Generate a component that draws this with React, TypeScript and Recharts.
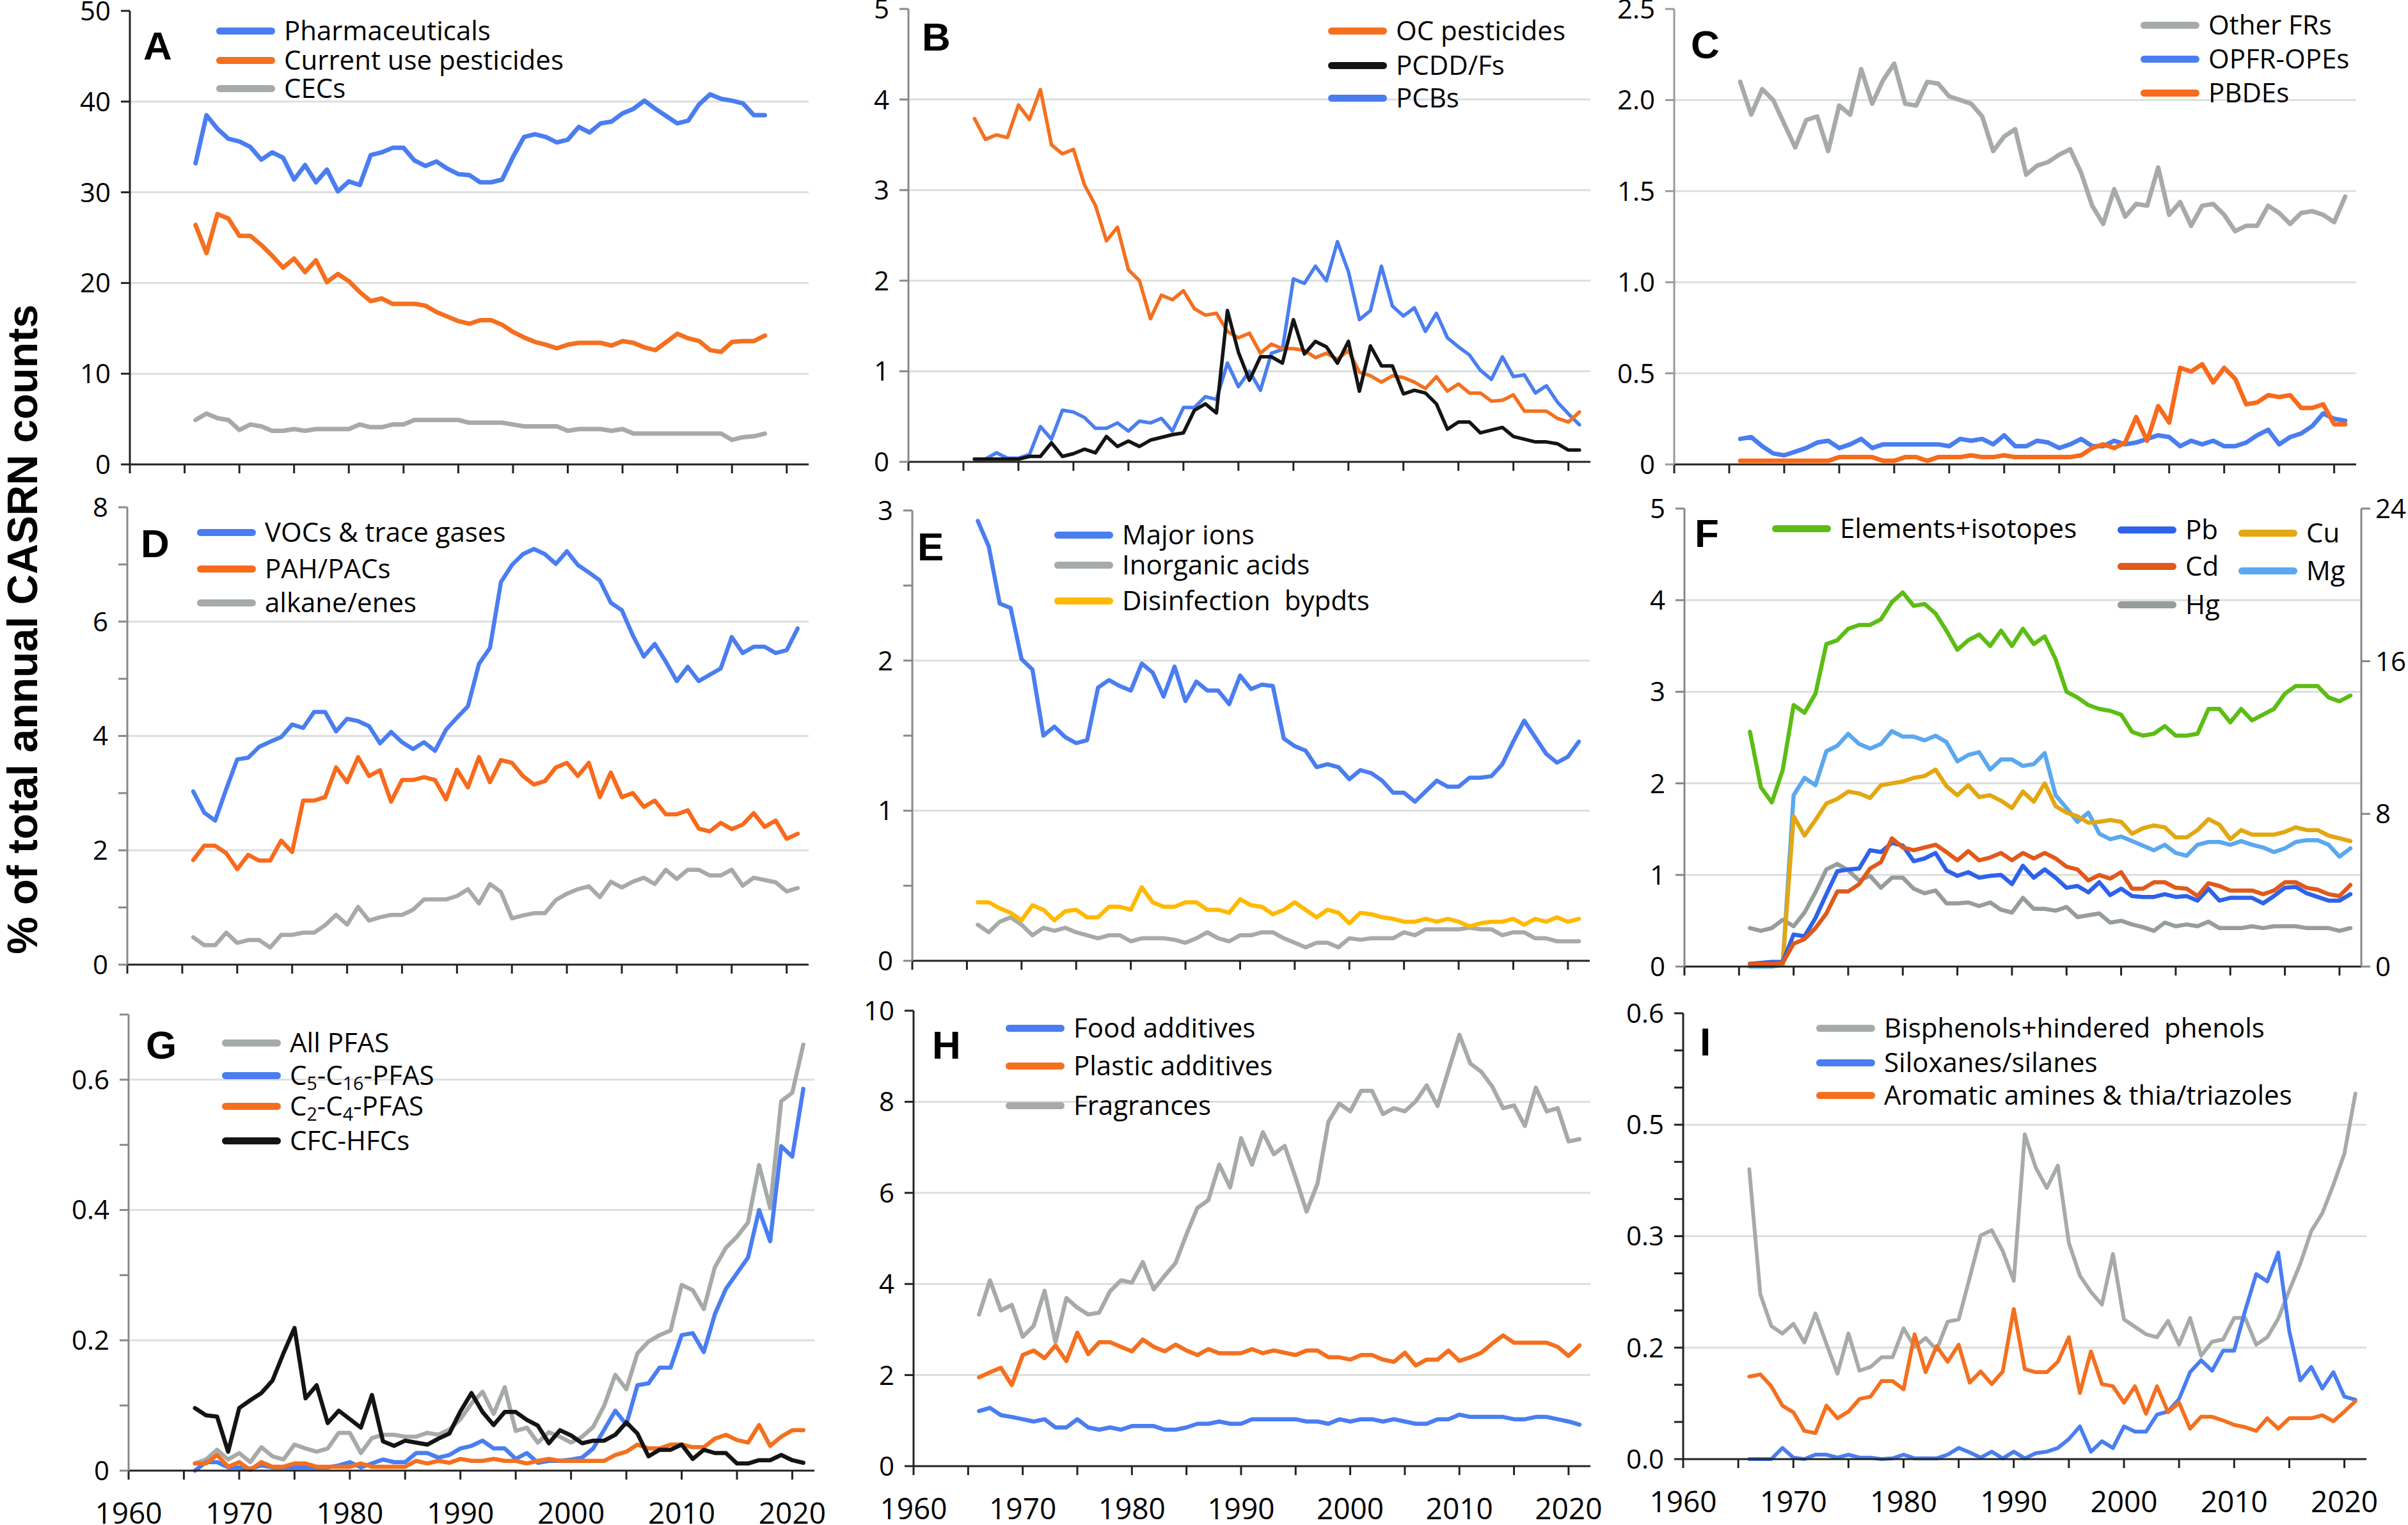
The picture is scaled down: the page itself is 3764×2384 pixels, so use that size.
import React from "react";
import { LineChart, Line, XAxis, YAxis, CartesianGrid, Legend } from "recharts";

const FONT = "'Open Sans', 'Noto Sans', sans-serif";
const BOLD_FONT = "'Liberation Sans', Arial, sans-serif";

const YEARS = [
  1966, 1967, 1968, 1969, 1970, 1971, 1972, 1973, 1974, 1975,
  1976, 1977, 1978, 1979, 1980, 1981, 1982, 1983, 1984, 1985,
  1986, 1987, 1988, 1989, 1990, 1991, 1992, 1993, 1994, 1995,
  1996, 1997, 1998, 1999, 2000, 2001, 2002, 2003, 2004, 2005,
  2006, 2007, 2008, 2009, 2010, 2011, 2012, 2013, 2014, 2015,
  2016, 2017, 2018, 2019, 2020, 2021,
];
const X_TICKS = [1960, 1965, 1970, 1975, 1980, 1985, 1990, 1995, 2000, 2005, 2010, 2015, 2020];
const X_DOMAIN: [number, number] = [1960, 2022];

// A (1966-2018)
const pharmaceuticals = [33.2, 38.5, 37.0, 35.9, 35.6, 35.0, 33.6, 34.4, 33.8, 31.4, 33.0, 31.1, 32.5, 30.1, 31.2, 30.8, 34.1, 34.4, 34.9, 34.9, 33.5, 32.9, 33.4, 32.6, 32.0, 31.9, 31.1, 31.1, 31.4, 33.9, 36.1, 36.4, 36.1, 35.5, 35.8, 37.2, 36.6, 37.6, 37.8, 38.7, 39.2, 40.1, 39.2, 38.4, 37.6, 37.9, 39.7, 40.8, 40.3, 40.1, 39.8, 38.5, 38.5];
const currentPesticides = [26.4, 23.3, 27.6, 27.1, 25.2, 25.2, 24.2, 23.0, 21.7, 22.7, 21.2, 22.5, 20.1, 21.0, 20.2, 19.0, 18.0, 18.3, 17.7, 17.7, 17.7, 17.5, 16.8, 16.3, 15.8, 15.5, 15.9, 15.9, 15.4, 14.6, 14.0, 13.5, 13.2, 12.8, 13.2, 13.4, 13.4, 13.4, 13.1, 13.6, 13.4, 12.9, 12.6, 13.5, 14.4, 13.9, 13.6, 12.6, 12.4, 13.5, 13.6, 13.6, 14.2];
const cecs = [4.9, 5.6, 5.1, 4.9, 3.8, 4.4, 4.2, 3.7, 3.7, 3.9, 3.7, 3.9, 3.9, 3.9, 3.9, 4.4, 4.1, 4.1, 4.4, 4.4, 4.9, 4.9, 4.9, 4.9, 4.9, 4.6, 4.6, 4.6, 4.6, 4.4, 4.2, 4.2, 4.2, 4.2, 3.7, 3.9, 3.9, 3.9, 3.7, 3.9, 3.4, 3.4, 3.4, 3.4, 3.4, 3.4, 3.4, 3.4, 3.4, 2.7, 3.0, 3.1, 3.4];

// B
const ocPesticides = [3.79, 3.56, 3.61, 3.58, 3.94, 3.78, 4.11, 3.50, 3.40, 3.45, 3.06, 2.83, 2.44, 2.59, 2.12, 2.00, 1.58, 1.84, 1.79, 1.89, 1.69, 1.62, 1.64, 1.44, 1.37, 1.42, 1.20, 1.30, 1.25, 1.25, 1.23, 1.15, 1.20, 1.13, 1.23, 0.99, 0.95, 0.88, 0.95, 0.93, 0.88, 0.81, 0.94, 0.78, 0.86, 0.76, 0.76, 0.67, 0.68, 0.74, 0.56, 0.56, 0.56, 0.48, 0.44, 0.55];
const pcddFs = [0.03, 0.03, 0.03, 0.03, 0.03, 0.06, 0.06, 0.21, 0.06, 0.09, 0.14, 0.10, 0.28, 0.17, 0.23, 0.17, 0.24, 0.27, 0.30, 0.32, 0.57, 0.64, 0.54, 1.67, 1.21, 0.90, 1.16, 1.16, 1.09, 1.57, 1.19, 1.33, 1.27, 1.09, 1.33, 0.78, 1.28, 1.06, 1.06, 0.75, 0.79, 0.76, 0.64, 0.36, 0.44, 0.44, 0.32, 0.35, 0.38, 0.28, 0.25, 0.22, 0.22, 0.20, 0.13, 0.13];
const pcbs = [0.03, 0.03, 0.10, 0.04, 0.04, 0.08, 0.39, 0.25, 0.57, 0.55, 0.49, 0.37, 0.37, 0.43, 0.34, 0.45, 0.43, 0.48, 0.34, 0.60, 0.60, 0.72, 0.69, 1.09, 0.83, 1.00, 0.79, 1.20, 1.24, 2.02, 1.97, 2.16, 2.00, 2.43, 2.10, 1.57, 1.67, 2.16, 1.72, 1.61, 1.70, 1.44, 1.64, 1.37, 1.27, 1.18, 1.01, 0.91, 1.16, 0.94, 0.96, 0.76, 0.84, 0.66, 0.53, 0.41];

// C
const otherFRs = [2.10, 1.92, 2.06, 2.00, 1.87, 1.74, 1.89, 1.91, 1.72, 1.97, 1.92, 2.17, 1.98, 2.11, 2.20, 1.98, 1.97, 2.10, 2.09, 2.02, 2.00, 1.98, 1.91, 1.72, 1.80, 1.84, 1.59, 1.64, 1.66, 1.70, 1.73, 1.60, 1.42, 1.32, 1.51, 1.36, 1.43, 1.42, 1.63, 1.37, 1.44, 1.31, 1.42, 1.43, 1.37, 1.28, 1.31, 1.31, 1.42, 1.38, 1.32, 1.38, 1.39, 1.37, 1.33, 1.47];
const opfrOpes = [0.14, 0.15, 0.10, 0.06, 0.05, 0.07, 0.09, 0.12, 0.13, 0.09, 0.11, 0.14, 0.09, 0.11, 0.11, 0.11, 0.11, 0.11, 0.11, 0.10, 0.14, 0.13, 0.14, 0.11, 0.16, 0.10, 0.10, 0.13, 0.12, 0.09, 0.11, 0.14, 0.10, 0.10, 0.13, 0.11, 0.12, 0.14, 0.16, 0.15, 0.10, 0.13, 0.11, 0.13, 0.10, 0.10, 0.12, 0.16, 0.19, 0.11, 0.15, 0.17, 0.21, 0.28, 0.25, 0.24];
const pbdes = [0.02, 0.02, 0.02, 0.02, 0.02, 0.02, 0.02, 0.02, 0.02, 0.04, 0.04, 0.04, 0.04, 0.02, 0.02, 0.04, 0.04, 0.02, 0.04, 0.04, 0.04, 0.05, 0.04, 0.04, 0.05, 0.04, 0.04, 0.04, 0.04, 0.04, 0.04, 0.05, 0.09, 0.11, 0.09, 0.12, 0.26, 0.13, 0.32, 0.23, 0.53, 0.51, 0.55, 0.45, 0.53, 0.47, 0.33, 0.34, 0.38, 0.37, 0.38, 0.31, 0.31, 0.33, 0.22, 0.22];

// D
const vocs = [3.03, 2.66, 2.52, 3.07, 3.59, 3.62, 3.81, 3.90, 3.98, 4.20, 4.14, 4.42, 4.42, 4.08, 4.30, 4.26, 4.17, 3.87, 4.07, 3.89, 3.77, 3.89, 3.74, 4.11, 4.32, 4.52, 5.26, 5.54, 6.69, 6.99, 7.18, 7.27, 7.18, 7.01, 7.23, 6.99, 6.86, 6.72, 6.33, 6.20, 5.76, 5.39, 5.61, 5.30, 4.96, 5.21, 4.96, 5.07, 5.18, 5.73, 5.45, 5.56, 5.56, 5.45, 5.50, 5.88];
const pahPacs = [1.83, 2.08, 2.08, 1.95, 1.67, 1.92, 1.82, 1.82, 2.17, 1.97, 2.87, 2.87, 2.93, 3.45, 3.19, 3.63, 3.30, 3.40, 2.85, 3.23, 3.23, 3.28, 3.23, 2.89, 3.41, 3.10, 3.63, 3.19, 3.58, 3.53, 3.30, 3.15, 3.21, 3.45, 3.53, 3.30, 3.53, 2.93, 3.36, 2.93, 3.00, 2.76, 2.87, 2.63, 2.63, 2.70, 2.38, 2.33, 2.48, 2.37, 2.45, 2.65, 2.41, 2.52, 2.20, 2.29];
const alkanes = [0.48, 0.34, 0.34, 0.56, 0.38, 0.43, 0.43, 0.30, 0.52, 0.52, 0.56, 0.56, 0.69, 0.87, 0.70, 1.01, 0.77, 0.83, 0.87, 0.87, 0.96, 1.14, 1.14, 1.14, 1.20, 1.32, 1.07, 1.41, 1.27, 0.81, 0.86, 0.90, 0.90, 1.13, 1.24, 1.32, 1.37, 1.18, 1.45, 1.35, 1.45, 1.52, 1.41, 1.66, 1.50, 1.66, 1.66, 1.56, 1.56, 1.66, 1.38, 1.52, 1.48, 1.44, 1.28, 1.34];

// E
const majorIons = [2.93, 2.76, 2.38, 2.35, 2.01, 1.94, 1.50, 1.56, 1.49, 1.45, 1.47, 1.82, 1.87, 1.83, 1.80, 1.98, 1.92, 1.76, 1.96, 1.73, 1.86, 1.80, 1.80, 1.71, 1.90, 1.81, 1.84, 1.83, 1.48, 1.43, 1.40, 1.29, 1.31, 1.29, 1.21, 1.27, 1.25, 1.20, 1.12, 1.12, 1.06, 1.13, 1.20, 1.16, 1.16, 1.22, 1.22, 1.23, 1.31, 1.46, 1.60, 1.49, 1.38, 1.32, 1.36, 1.46];
const inorganicAcids = [0.24, 0.19, 0.26, 0.29, 0.24, 0.17, 0.22, 0.20, 0.22, 0.19, 0.17, 0.15, 0.17, 0.17, 0.13, 0.15, 0.15, 0.15, 0.14, 0.12, 0.15, 0.19, 0.15, 0.13, 0.17, 0.17, 0.19, 0.19, 0.15, 0.12, 0.09, 0.12, 0.12, 0.09, 0.15, 0.14, 0.15, 0.15, 0.15, 0.19, 0.17, 0.21, 0.21, 0.21, 0.21, 0.22, 0.21, 0.21, 0.17, 0.19, 0.19, 0.15, 0.15, 0.13, 0.13, 0.13];
const disinfection = [0.39, 0.39, 0.35, 0.32, 0.27, 0.37, 0.34, 0.27, 0.33, 0.34, 0.29, 0.29, 0.36, 0.36, 0.34, 0.49, 0.39, 0.36, 0.36, 0.39, 0.39, 0.34, 0.34, 0.32, 0.41, 0.37, 0.36, 0.31, 0.34, 0.39, 0.34, 0.29, 0.34, 0.32, 0.25, 0.32, 0.31, 0.29, 0.28, 0.26, 0.26, 0.28, 0.26, 0.28, 0.26, 0.23, 0.25, 0.26, 0.26, 0.28, 0.24, 0.28, 0.26, 0.29, 0.26, 0.28];

// F (elements on the right axis, 0-24)
const elements = [12.3, 9.4, 8.6, 10.3, 13.7, 13.3, 14.3, 16.9, 17.1, 17.7, 17.9, 17.9, 18.2, 19.1, 19.6, 18.9, 19.0, 18.5, 17.6, 16.6, 17.1, 17.4, 16.8, 17.6, 16.8, 17.7, 16.9, 17.3, 16.1, 14.4, 14.1, 13.7, 13.5, 13.4, 13.2, 12.3, 12.1, 12.2, 12.6, 12.1, 12.1, 12.2, 13.5, 13.5, 12.8, 13.5, 12.9, 13.2, 13.5, 14.3, 14.7, 14.7, 14.7, 14.1, 13.9, 14.2];
const lead = [0.03, 0.04, 0.05, 0.05, 0.35, 0.33, 0.53, 0.79, 1.04, 1.06, 1.07, 1.27, 1.25, 1.35, 1.32, 1.15, 1.18, 1.24, 1.05, 0.99, 1.03, 0.97, 0.99, 1.00, 0.90, 1.10, 0.97, 1.06, 0.97, 0.86, 0.88, 0.81, 0.92, 0.78, 0.85, 0.77, 0.76, 0.76, 0.79, 0.76, 0.77, 0.72, 0.85, 0.72, 0.75, 0.75, 0.75, 0.69, 0.77, 0.86, 0.87, 0.80, 0.76, 0.72, 0.72, 0.79];
const cadmium = [0.03, 0.03, 0.03, 0.04, 0.25, 0.30, 0.42, 0.58, 0.82, 0.82, 0.90, 1.07, 1.14, 1.40, 1.30, 1.27, 1.30, 1.33, 1.25, 1.16, 1.26, 1.16, 1.19, 1.24, 1.16, 1.24, 1.18, 1.24, 1.18, 1.09, 1.06, 0.94, 1.00, 0.96, 1.03, 0.85, 0.85, 0.92, 0.92, 0.86, 0.85, 0.77, 0.91, 0.88, 0.83, 0.83, 0.83, 0.79, 0.83, 0.92, 0.92, 0.86, 0.84, 0.79, 0.77, 0.89];
const copper = [0.03, 0.03, 0.03, 0.03, 1.64, 1.43, 1.60, 1.78, 1.83, 1.91, 1.89, 1.84, 1.98, 2.00, 2.02, 2.06, 2.08, 2.15, 1.97, 1.87, 1.98, 1.85, 1.87, 1.81, 1.73, 1.91, 1.80, 2.00, 1.75, 1.68, 1.64, 1.57, 1.58, 1.60, 1.58, 1.45, 1.51, 1.54, 1.52, 1.41, 1.41, 1.49, 1.61, 1.55, 1.39, 1.49, 1.44, 1.44, 1.44, 1.47, 1.52, 1.49, 1.49, 1.43, 1.40, 1.37];
const magnesium = [0.0, 0.0, 0.0, 0.02, 1.87, 2.06, 1.98, 2.35, 2.41, 2.54, 2.43, 2.38, 2.43, 2.57, 2.51, 2.51, 2.47, 2.52, 2.45, 2.24, 2.31, 2.34, 2.15, 2.26, 2.26, 2.19, 2.21, 2.33, 1.87, 1.73, 1.58, 1.68, 1.45, 1.39, 1.42, 1.37, 1.32, 1.27, 1.33, 1.24, 1.21, 1.33, 1.36, 1.36, 1.33, 1.37, 1.33, 1.30, 1.25, 1.29, 1.36, 1.38, 1.38, 1.33, 1.20, 1.29];
const mercury = [0.42, 0.39, 0.42, 0.51, 0.44, 0.59, 0.81, 1.06, 1.12, 1.05, 0.94, 0.99, 0.86, 0.97, 0.97, 0.85, 0.80, 0.83, 0.69, 0.69, 0.70, 0.66, 0.70, 0.62, 0.59, 0.75, 0.63, 0.63, 0.61, 0.65, 0.54, 0.56, 0.58, 0.48, 0.50, 0.46, 0.43, 0.39, 0.48, 0.44, 0.46, 0.44, 0.49, 0.42, 0.42, 0.42, 0.44, 0.42, 0.44, 0.44, 0.44, 0.42, 0.42, 0.42, 0.39, 0.42];

// G
const allPfas = [0.011, 0.017, 0.032, 0.017, 0.027, 0.013, 0.036, 0.022, 0.017, 0.040, 0.034, 0.029, 0.034, 0.058, 0.058, 0.027, 0.050, 0.055, 0.055, 0.052, 0.052, 0.058, 0.055, 0.063, 0.079, 0.103, 0.121, 0.087, 0.128, 0.061, 0.066, 0.043, 0.059, 0.052, 0.043, 0.052, 0.067, 0.100, 0.147, 0.125, 0.180, 0.198, 0.208, 0.215, 0.285, 0.277, 0.248, 0.312, 0.342, 0.359, 0.381, 0.469, 0.403, 0.567, 0.580, 0.654];
const c5c16Pfas = [0.0, 0.013, 0.013, 0.005, 0.005, 0.003, 0.008, 0.005, 0.005, 0.005, 0.005, 0.005, 0.005, 0.008, 0.013, 0.005, 0.011, 0.017, 0.013, 0.013, 0.027, 0.027, 0.020, 0.024, 0.034, 0.038, 0.046, 0.034, 0.034, 0.018, 0.027, 0.012, 0.015, 0.015, 0.017, 0.020, 0.034, 0.063, 0.092, 0.071, 0.131, 0.134, 0.158, 0.158, 0.208, 0.211, 0.182, 0.240, 0.279, 0.303, 0.327, 0.400, 0.352, 0.498, 0.482, 0.586];
const c2c4Pfas = [0.011, 0.011, 0.024, 0.006, 0.013, 0.001, 0.013, 0.006, 0.006, 0.011, 0.011, 0.006, 0.006, 0.006, 0.006, 0.011, 0.006, 0.006, 0.006, 0.006, 0.015, 0.011, 0.015, 0.012, 0.018, 0.015, 0.015, 0.018, 0.015, 0.015, 0.011, 0.015, 0.018, 0.015, 0.015, 0.015, 0.015, 0.015, 0.024, 0.029, 0.040, 0.034, 0.034, 0.040, 0.040, 0.036, 0.036, 0.049, 0.055, 0.047, 0.043, 0.070, 0.038, 0.052, 0.062, 0.062];
const cfcHfcs = [0.096, 0.085, 0.083, 0.029, 0.096, 0.108, 0.119, 0.138, 0.180, 0.219, 0.111, 0.131, 0.073, 0.092, 0.079, 0.066, 0.116, 0.045, 0.038, 0.046, 0.043, 0.040, 0.049, 0.057, 0.091, 0.119, 0.090, 0.070, 0.090, 0.090, 0.078, 0.069, 0.042, 0.062, 0.054, 0.042, 0.046, 0.046, 0.055, 0.074, 0.057, 0.022, 0.032, 0.032, 0.040, 0.018, 0.032, 0.027, 0.027, 0.011, 0.011, 0.016, 0.016, 0.024, 0.016, 0.012];

// H
const foodAdditives = [1.21, 1.28, 1.12, 1.08, 1.03, 0.98, 1.03, 0.85, 0.85, 1.03, 0.85, 0.80, 0.85, 0.80, 0.88, 0.88, 0.88, 0.80, 0.80, 0.85, 0.93, 0.93, 0.98, 0.93, 0.93, 1.03, 1.03, 1.03, 1.03, 1.03, 0.98, 0.98, 0.93, 1.03, 0.98, 1.03, 1.03, 0.98, 1.03, 0.98, 0.93, 0.93, 1.03, 1.03, 1.13, 1.08, 1.08, 1.08, 1.08, 1.03, 1.03, 1.08, 1.08, 1.03, 0.98, 0.91];
const plasticAdditives = [1.95, 2.06, 2.16, 1.78, 2.44, 2.54, 2.37, 2.65, 2.31, 2.93, 2.46, 2.72, 2.72, 2.62, 2.52, 2.78, 2.62, 2.52, 2.67, 2.54, 2.44, 2.57, 2.48, 2.48, 2.48, 2.57, 2.48, 2.54, 2.49, 2.44, 2.54, 2.54, 2.39, 2.39, 2.34, 2.44, 2.44, 2.34, 2.29, 2.49, 2.21, 2.34, 2.34, 2.54, 2.31, 2.39, 2.49, 2.69, 2.87, 2.71, 2.71, 2.71, 2.71, 2.62, 2.42, 2.65];
const fragrances = [3.33, 4.08, 3.42, 3.54, 2.84, 3.08, 3.85, 2.72, 3.69, 3.48, 3.33, 3.37, 3.84, 4.08, 4.03, 4.48, 3.88, 4.18, 4.46, 5.09, 5.67, 5.84, 6.62, 6.12, 7.20, 6.62, 7.33, 6.85, 7.03, 6.33, 5.59, 6.20, 7.56, 7.96, 7.79, 8.24, 8.24, 7.73, 7.86, 7.79, 8.01, 8.36, 7.91, 8.69, 9.47, 8.84, 8.66, 8.34, 7.86, 7.92, 7.47, 8.31, 7.79, 7.86, 7.13, 7.18];

// I
const bisphenols = [0.390, 0.222, 0.179, 0.169, 0.182, 0.157, 0.196, 0.155, 0.115, 0.169, 0.119, 0.124, 0.137, 0.137, 0.176, 0.151, 0.163, 0.147, 0.185, 0.188, 0.244, 0.301, 0.308, 0.280, 0.240, 0.437, 0.392, 0.365, 0.395, 0.291, 0.247, 0.225, 0.208, 0.276, 0.188, 0.178, 0.168, 0.164, 0.186, 0.154, 0.190, 0.139, 0.158, 0.161, 0.190, 0.190, 0.154, 0.164, 0.189, 0.227, 0.263, 0.307, 0.331, 0.369, 0.411, 0.492];
const siloxanes = [0, 0, 0, 0.015, 0.002, 0, 0.006, 0.006, 0.002, 0.006, 0.002, 0.002, 0, 0.001, 0.006, 0.001, 0.001, 0.001, 0.006, 0.015, 0.009, 0.002, 0.010, 0.001, 0.010, 0.001, 0.008, 0.010, 0.015, 0.027, 0.044, 0.010, 0.024, 0.015, 0.044, 0.037, 0.037, 0.060, 0.064, 0.081, 0.117, 0.133, 0.119, 0.146, 0.146, 0.200, 0.249, 0.239, 0.278, 0.172, 0.106, 0.124, 0.095, 0.117, 0.084, 0.080];
const aromaticAmines = [0.111, 0.114, 0.098, 0.072, 0.063, 0.038, 0.035, 0.072, 0.055, 0.064, 0.081, 0.084, 0.105, 0.105, 0.094, 0.168, 0.117, 0.152, 0.131, 0.154, 0.103, 0.118, 0.101, 0.118, 0.202, 0.121, 0.117, 0.117, 0.131, 0.164, 0.089, 0.145, 0.101, 0.098, 0.076, 0.098, 0.061, 0.098, 0.063, 0.076, 0.041, 0.057, 0.057, 0.052, 0.046, 0.043, 0.038, 0.055, 0.041, 0.055, 0.055, 0.055, 0.059, 0.051, 0.064, 0.078];

const BLUE = "#4a7ef0";
const ORANGE = "#f4701f";
const GRAY = "#a6aba8";
const BLACK = "#141414";

interface Series {
  key: string;
  name: React.ReactNode;
  color: string;
  values: number[];
  lx: number;
  ly: number;
  axis?: string;
}

interface Panel {
  id: string;
  letter: string;
  letterX: number;
  letterY: number;
  left: number;
  right: number;
  top: number;
  bottom: number;
  yMax: number;
  yTicks: number[];
  yLabels: string[];
  grid: number[];
  axisColor: string;
  frameColor: string;
  sw: number;
  bottomLabels: boolean;
  series: Series[];
  rightAxis?: { max: number; ticks: number[] };
}

const subStyle: React.CSSProperties = { fontSize: "0.68em", verticalAlign: "-0.28em", lineHeight: 0 };

const PANELS: Panel[] = [
  {
    id: "A", letter: "A", letterX: 21, letterY: 31,
    left: 203, right: 1264, top: 17, bottom: 726,
    yMax: 50, yTicks: [0, 10, 20, 30, 40, 50], yLabels: ["0", "10", "20", "30", "40", "50"], grid: [10, 20, 30, 40],
    axisColor: "#222", frameColor: "#222", sw: 7, bottomLabels: false,
    series: [
      { key: "pharma", name: "Pharmaceuticals", color: BLUE, values: pharmaceuticals, lx: 135, ly: 31 },
      { key: "cup", name: "Current use pesticides", color: ORANGE, values: currentPesticides, lx: 135, ly: 77 },
      { key: "cec", name: "CECs", color: GRAY, values: cecs, lx: 135, ly: 121 },
    ],
  },
  {
    id: "B", letter: "B", letterX: 21, letterY: 20,
    left: 1420, right: 2486, top: 14, bottom: 722,
    yMax: 5, yTicks: [0, 1, 2, 3, 4, 5], yLabels: ["0", "1", "2", "3", "4", "5"], grid: [1, 2, 3, 4],
    axisColor: "#888", frameColor: "#222", sw: 5.5, bottomLabels: false,
    series: [
      { key: "pcb", name: "PCBs", color: BLUE, values: pcbs, lx: 656, ly: 139 },
      { key: "oc", name: "OC pesticides", color: ORANGE, values: ocPesticides, lx: 656, ly: 34 },
      { key: "pcdd", name: "PCDD/Fs", color: BLACK, values: pcddFs, lx: 656, ly: 88 },
    ],
  },
  {
    id: "C", letter: "C", letterX: 26, letterY: 32,
    left: 2617, right: 3683, top: 14, bottom: 726,
    yMax: 2.5, yTicks: [0, 0.5, 1, 1.5, 2, 2.5], yLabels: ["0", "0.5", "1.0", "1.5", "2.0", "2.5"], grid: [0.5, 1, 1.5, 2],
    axisColor: "#999", frameColor: "#999", sw: 7, bottomLabels: false,
    series: [
      { key: "ofr", name: "Other FRs", color: GRAY, values: otherFRs, lx: 729, ly: 25 },
      { key: "opfr", name: "OPFR-OPEs", color: BLUE, values: opfrOpes, lx: 729, ly: 78 },
      { key: "pbde", name: "PBDEs", color: "#f86a1c", values: pbdes, lx: 729, ly: 131 },
    ],
  },
  {
    id: "D", letter: "D", letterX: 21, letterY: 33,
    left: 199, right: 1264, top: 793, bottom: 1508,
    yMax: 8, yTicks: [0, 1, 2, 3, 4, 5, 6, 7, 8], yLabels: ["0", "", "2", "", "4", "", "6", "", "8"], grid: [2, 4, 6],
    axisColor: "#888", frameColor: "#444", sw: 6.5, bottomLabels: false,
    series: [
      { key: "voc", name: "VOCs & trace gases", color: BLUE, values: vocs, lx: 109, ly: 39 },
      { key: "pah", name: "PAH/PACs", color: "#f86a1c", values: pahPacs, lx: 109, ly: 96 },
      { key: "alk", name: "alkane/enes", color: GRAY, values: alkanes, lx: 109, ly: 149 },
    ],
  },
  {
    id: "E", letter: "E", letterX: 8, letterY: 33,
    left: 1426, right: 2485, top: 798, bottom: 1502,
    yMax: 3, yTicks: [0, 0.5, 1, 1.5, 2, 2.5, 3], yLabels: ["0", "", "1", "", "2", "", "3"], grid: [1, 2],
    axisColor: "#888", frameColor: "#222", sw: 6.5, bottomLabels: false,
    series: [
      { key: "ion", name: "Major ions", color: BLUE, values: majorIons, lx: 222, ly: 38 },
      { key: "inorg", name: "Inorganic acids", color: GRAY, values: inorganicAcids, lx: 222, ly: 85 },
      { key: "dbp", name: "Disinfection  bypdts", color: "#ffb900", values: disinfection, lx: 222, ly: 141 },
    ],
  },
  {
    id: "F", letter: "F", letterX: 16, letterY: 15,
    left: 2633, right: 3691, top: 795, bottom: 1511,
    yMax: 5, yTicks: [0, 1, 2, 3, 4, 5], yLabels: ["0", "1", "2", "3", "4", "5"], grid: [1, 2, 3, 4],
    axisColor: "#888", frameColor: "#6e90d8", sw: 6.5, bottomLabels: false,
    rightAxis: { max: 24, ticks: [0, 8, 16, 24] },
    series: [
      { key: "hg", name: "Hg", color: "#979d9a", values: mercury, lx: 677, ly: 150 },
      { key: "mg", name: "Mg", color: "#5ba8ee", values: magnesium, lx: 866, ly: 97 },
      { key: "cu", name: "Cu", color: "#e2a712", values: copper, lx: 866, ly: 38 },
      { key: "pb", name: "Pb", color: "#2e62ea", values: lead, lx: 677, ly: 33 },
      { key: "cd", name: "Cd", color: "#e05a1c", values: cadmium, lx: 677, ly: 90 },
      { key: "el", name: "Elements+isotopes", color: "#5cbd14", values: elements, lx: 137, ly: 31, axis: "right" },
    ],
  },
  {
    id: "G", letter: "G", letterX: 27, letterY: 24,
    left: 201, right: 1273, top: 1586, bottom: 2299,
    yMax: 0.7, yTicks: [0, 0.1, 0.2, 0.3, 0.4, 0.5, 0.6, 0.7], yLabels: ["0", "", "0.2", "", "0.4", "", "0.6", ""], grid: [0.2, 0.4, 0.6],
    axisColor: "#888", frameColor: "#222", sw: 6.5, bottomLabels: true,
    series: [
      { key: "all", name: "All PFAS", color: GRAY, values: allPfas, lx: 146, ly: 44 },
      { key: "c5", name: <>C<sub style={subStyle}>5</sub>-C<sub style={subStyle}>16</sub>-PFAS</>, color: BLUE, values: c5c16Pfas, lx: 146, ly: 95 },
      { key: "c2", name: <>C<sub style={subStyle}>2</sub>-C<sub style={subStyle}>4</sub>-PFAS</>, color: ORANGE, values: c2c4Pfas, lx: 146, ly: 143 },
      { key: "cfc", name: "CFC-HFCs", color: BLACK, values: cfcHfcs, lx: 146, ly: 197 },
    ],
  },
  {
    id: "H", letter: "H", letterX: 29, letterY: 30,
    left: 1428, right: 2486, top: 1580, bottom: 2292,
    yMax: 10, yTicks: [0, 2, 4, 6, 8, 10], yLabels: ["0", "2", "4", "6", "8", "10"], grid: [2, 4, 6, 8],
    axisColor: "#222", frameColor: "#222", sw: 6.5, bottomLabels: true,
    series: [
      { key: "food", name: "Food additives", color: BLUE, values: foodAdditives, lx: 144, ly: 27 },
      { key: "plastic", name: "Plastic additives", color: ORANGE, values: plasticAdditives, lx: 144, ly: 86 },
      { key: "frag", name: "Fragrances", color: GRAY, values: fragrances, lx: 144, ly: 148 },
    ],
  },
  {
    id: "I", letter: "I", letterX: 26, letterY: 21,
    left: 2631, right: 3699, top: 1584, bottom: 2281,
    yMax: 0.6,
    yTicks: [0, 0.05, 0.1, 0.15, 0.2, 0.25, 0.3, 0.35, 0.4, 0.45, 0.5, 0.55, 0.6],
    yLabels: ["0.0", "", "", "0.2", "", "", "0.3", "", "", "0.5", "", "", "0.6"],
    grid: [0.15, 0.3, 0.45],
    axisColor: "#222", frameColor: "#222", sw: 6, bottomLabels: true,
    series: [
      { key: "bis", name: "Bisphenols+hindered  phenols", color: GRAY, values: bisphenols, lx: 208, ly: 23 },
      { key: "sil", name: "Siloxanes/silanes", color: BLUE, values: siloxanes, lx: 208, ly: 77 },
      { key: "aro", name: "Aromatic amines & thia/triazoles", color: ORANGE, values: aromaticAmines, lx: 208, ly: 128 },
    ],
  },
];

// legend order in the figure differs from draw order in a few panels
const LEGEND_ORDER: Record<string, string[]> = {
  B: ["oc", "pcdd", "pcb"],
  F: ["el", "pb", "cd", "hg", "cu", "mg"],
};

const YAW = 130;
const MT = 25;

function PanelLegend({ p }: { p: Panel }) {
  const order = LEGEND_ORDER[p.id];
  const items = order ? order.map((k) => p.series.find((s) => s.key === k)!) : p.series;
  return (
    <div style={{ position: "relative", width: "100%", height: "100%", fontFamily: FONT, color: "#000" }}>
      <div
        style={{
          position: "absolute",
          left: p.letterX,
          top: p.letterY - 7,
          fontFamily: BOLD_FONT,
          fontWeight: 700,
          fontSize: 62,
          lineHeight: "62px",
        }}
      >
        {p.letter}
      </div>
      {items.map((s) => (
        <div
          key={s.key}
          style={{
            position: "absolute",
            left: s.lx,
            top: s.ly - 25,
            height: 50,
            display: "flex",
            alignItems: "center",
            whiteSpace: "pre",
          }}
        >
          <span style={{ display: "inline-block", width: 92, height: 11, borderRadius: 6, background: s.color, marginRight: 14 }} />
          <span style={{ fontSize: 42, lineHeight: "50px", marginTop: -3 }}>{s.name}</span>
        </div>
      ))}
    </div>
  );
}

function PanelChart({ p }: { p: Panel }) {
  const plotW = p.right - p.left;
  const plotH = p.bottom - p.top;
  const xh = p.bottomLabels ? 110 : 30;
  const rw = p.rightAxis ? 110 : 0;
  const mr = p.rightAxis ? 10 : 45;
  const width = YAW + plotW + rw + mr;
  const height = MT + plotH + xh;

  const data = YEARS.map((year, i) => {
    const row: Record<string, number | null> = { year };
    p.series.forEach((s) => {
      row[s.key] = i < s.values.length ? s.values[i] : null;
    });
    return row;
  });

  return (
    <div style={{ position: "absolute", left: p.left - YAW, top: p.top - MT }}>
      <LineChart width={width} height={height} data={data} margin={{ top: MT, right: mr, bottom: 0, left: 0 }}>
        <CartesianGrid vertical={false} horizontalValues={p.grid} stroke="#dcdfde" strokeWidth={3} />
        <XAxis
          xAxisId="frame"
          orientation="top"
          type="number"
          domain={X_DOMAIN}
          height={0}
          tick={false}
          tickLine={false}
          axisLine={{ stroke: p.frameColor, strokeWidth: 3 }}
        />
        <XAxis
          type="number"
          dataKey="year"
          domain={X_DOMAIN}
          ticks={X_TICKS}
          interval={0}
          height={xh}
          tickSize={14}
          tickMargin={p.bottomLabels ? 36 : 0}
          tickFormatter={(v: number) => (p.bottomLabels && v % 10 === 0 ? String(v) : "")}
          tick={{ fill: "#000", fontSize: 46, fontFamily: FONT }}
          axisLine={{ stroke: "#222", strokeWidth: 3 }}
          tickLine={{ stroke: "#222", strokeWidth: 3 }}
        />
        <YAxis
          type="number"
          domain={[0, p.yMax]}
          ticks={p.yTicks}
          interval={0}
          width={YAW}
          tickSize={14}
          tickMargin={16}
          tickFormatter={(_v: number, i: number) => p.yLabels[i] ?? ""}
          tick={{ fill: "#000", fontSize: 42, fontFamily: FONT }}
          axisLine={{ stroke: p.axisColor, strokeWidth: 3 }}
          tickLine={{ stroke: p.axisColor, strokeWidth: 3 }}
        />
        {p.rightAxis ? (
          <YAxis
            yAxisId="right"
            orientation="right"
            type="number"
            domain={[0, p.rightAxis.max]}
            ticks={p.rightAxis.ticks}
            interval={0}
            width={rw}
            tickSize={14}
            tickMargin={8}
            tick={{ fill: "#000", fontSize: 42, fontFamily: FONT }}
            axisLine={{ stroke: "#888", strokeWidth: 3 }}
            tickLine={{ stroke: "#888", strokeWidth: 3 }}
          />
        ) : (
          <YAxis
            yAxisId="frame"
            orientation="right"
            type="number"
            domain={[0, 1]}
            width={0}
            tick={false}
            tickLine={false}
            axisLine={{ stroke: p.frameColor, strokeWidth: 3 }}
          />
        )}
        {p.series.map((s) => (
          <Line
            key={s.key}
            yAxisId={s.axis ?? 0}
            type="linear"
            dataKey={s.key}
            stroke={s.color}
            strokeWidth={p.sw}
            strokeLinejoin="round"
            strokeLinecap="round"
            dot={false}
            activeDot={false}
            isAnimationActive={false}
          />
        ))}
        <Legend
          layout="vertical"
          align="center"
          verticalAlign="middle"
          wrapperStyle={{ left: YAW, top: MT, width: plotW, height: plotH }}
          content={() => <PanelLegend p={p} />}
        />
      </LineChart>
    </div>
  );
}

export default function App() {
  return (
    <div
      style={{
        position: "absolute",
        left: 0,
        top: 0,
        width: 3764,
        height: 2384,
        background: "#fff",
        overflow: "hidden",
      }}
    >
      <div
        style={{
          position: "absolute",
          left: 35 - 560,
          top: 984 - 33,
          width: 1120,
          height: 66,
          lineHeight: "66px",
          textAlign: "center",
          transform: "rotate(-90deg)",
          fontFamily: BOLD_FONT,
          fontWeight: 700,
          fontSize: 66,
          color: "#000",
          whiteSpace: "nowrap",
        }}
      >
        % of total annual CASRN counts
      </div>
      {PANELS.map((p) => (
        <PanelChart key={p.id} p={p} />
      ))}
    </div>
  );
}
